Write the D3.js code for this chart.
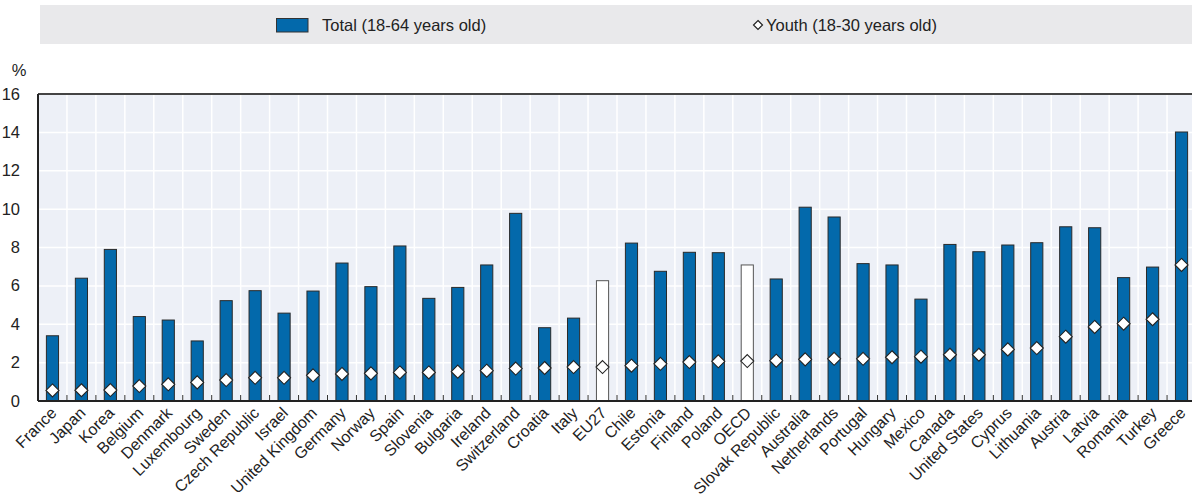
<!DOCTYPE html>
<html><head><meta charset="utf-8">
<script src="https://cdn.jsdelivr.net/npm/d3@7"></script>
<style>body{margin:0;background:#fff;}svg{display:block;}text{font-family:"Liberation Sans Narrow","Arial Narrow",sans-serif;fill:#222;}</style>
</head><body><svg id="c" width="1192" height="500"></svg>
<script>
const categories = ["France","Japan","Korea","Belgium","Denmark","Luxembourg","Sweden","Czech Republic","Israel","United Kingdom","Germany","Norway","Spain","Slovenia","Bulgaria","Ireland","Switzerland","Croatia","Italy","EU27","Chile","Estonia","Finland","Poland","OECD","Slovak Republic","Australia","Netherlands","Portugal","Hungary","Mexico","Canada","United States","Cyprus","Lithuania","Austria","Latvia","Romania","Turkey","Greece"];
const totalValues = [3.4,6.4,7.9,4.4,4.22,3.13,5.23,5.75,4.58,5.73,7.19,5.96,8.08,5.35,5.92,7.09,9.78,3.82,4.32,6.27,8.23,6.76,7.75,7.73,7.09,6.36,10.1,9.59,7.16,7.09,5.31,8.16,7.78,8.13,8.25,9.08,9.03,6.43,6.98,14.02];
const youthValues = [0.55,0.56,0.57,0.78,0.87,0.97,1.09,1.21,1.21,1.34,1.41,1.44,1.49,1.49,1.53,1.58,1.69,1.72,1.77,1.77,1.84,1.94,2.03,2.07,2.08,2.1,2.17,2.2,2.2,2.28,2.31,2.41,2.41,2.69,2.76,3.35,3.86,4.03,4.26,7.09];
const aggregates = ["EU27","OECD"];
const yTicks = [0,2,4,6,8,10,12,14,16];
const legendLabels = ["Total (18-64 years old)","Youth (18-30 years old)"];

const svg = d3.select("#c");
const L = 38, R = 1196, T = 94, B = 401;
const x = d3.scaleBand().domain(categories).range([L, R]).padding(0);
const y = d3.scaleLinear().domain([0,16]).range([B, T]);
const blue = "#0369ab";
const diamond = r => `M0,${-r}L${r},0L0,${r}L${-r},0Z`;

// legend
svg.append("rect").attr("x",40).attr("y",5).attr("width",1200).attr("height",39).attr("fill","#e9e9eb");
svg.append("rect").attr("x",276.5).attr("y",18.5).attr("width",31.5).attr("height",13.5).attr("fill",blue).attr("stroke","#333").attr("stroke-width",1);
svg.append("text").attr("x",322).attr("y",31).attr("font-size",16.5).text(legendLabels[0]);
svg.append("path").attr("d",diamond(4.5)).attr("transform","translate(758,25)").attr("fill","#fff").attr("stroke","#222").attr("stroke-width",1.2);
svg.append("text").attr("x",766).attr("y",31).attr("font-size",16.5).text(legendLabels[1]);

// plot bg
svg.append("rect").attr("x",L).attr("y",T).attr("width",R-L).attr("height",B-T).attr("fill","#edf0f7");
// grid
svg.append("g").selectAll("line").data(yTicks.slice(1,-1)).join("line")
  .attr("x1",L).attr("x2",R).attr("y1",d=>y(d)).attr("y2",d=>y(d)).attr("stroke","#fff").attr("stroke-width",1.5);
svg.append("g").selectAll("line").data(categories.slice(1)).join("line")
  .attr("x1",d=>x(d)).attr("x2",d=>x(d)).attr("y1",T).attr("y2",B).attr("stroke","#fff").attr("stroke-width",1.5);

// bars
const bw = x.bandwidth()*0.42;
svg.append("g").selectAll("rect").data(categories).join("rect")
  .attr("x",d=>x(d)+x.bandwidth()/2-bw/2).attr("width",bw)
  .attr("y",(d,i)=>y(totalValues[i])).attr("height",(d,i)=>B-y(totalValues[i]))
  .attr("fill",d=>aggregates.includes(d)?"#fff":blue)
  .attr("stroke",d=>aggregates.includes(d)?"#555":"#2a2a2a").attr("stroke-width",1);

// bottom ticks
svg.append("g").selectAll("line").data(categories.slice(1)).join("line")
  .attr("x1",d=>x(d)).attr("x2",d=>x(d)).attr("y1",B-6).attr("y2",B).attr("stroke","#333").attr("stroke-width",1);

// diamonds
svg.append("g").selectAll("path").data(categories).join("path")
  .attr("d",diamond(6.5))
  .attr("transform",(d,i)=>`translate(${x(d)+x.bandwidth()/2},${y(youthValues[i])})`)
  .attr("fill","#fff").attr("stroke","#222").attr("stroke-width",1.1);

// frame lines
svg.append("line").attr("x1",L).attr("x2",R).attr("y1",T).attr("y2",T).attr("stroke","#444").attr("stroke-width",2);
svg.append("line").attr("x1",L).attr("x2",R).attr("y1",B).attr("y2",B).attr("stroke","#222").attr("stroke-width",2);
svg.append("line").attr("x1",L).attr("x2",L).attr("y1",T).attr("y2",B).attr("stroke","#222").attr("stroke-width",2);

// y labels
svg.append("g").selectAll("text").data(yTicks).join("text")
  .attr("x",20).attr("y",d=>y(d)+5.5).attr("text-anchor","end").attr("font-size",16.5).text(d=>d);
svg.append("text").attr("x",19).attr("y",76).attr("text-anchor","middle").attr("font-size",16.5).text("%");

// x labels
svg.append("g").selectAll("text").data(categories).join("text")
  .attr("text-anchor","end").attr("font-size",16)
  .attr("transform",d=>`translate(${x(d)+x.bandwidth()/2+5},${B+13}) rotate(-45)`)
  .text(d=>d);
</script></body></html>
